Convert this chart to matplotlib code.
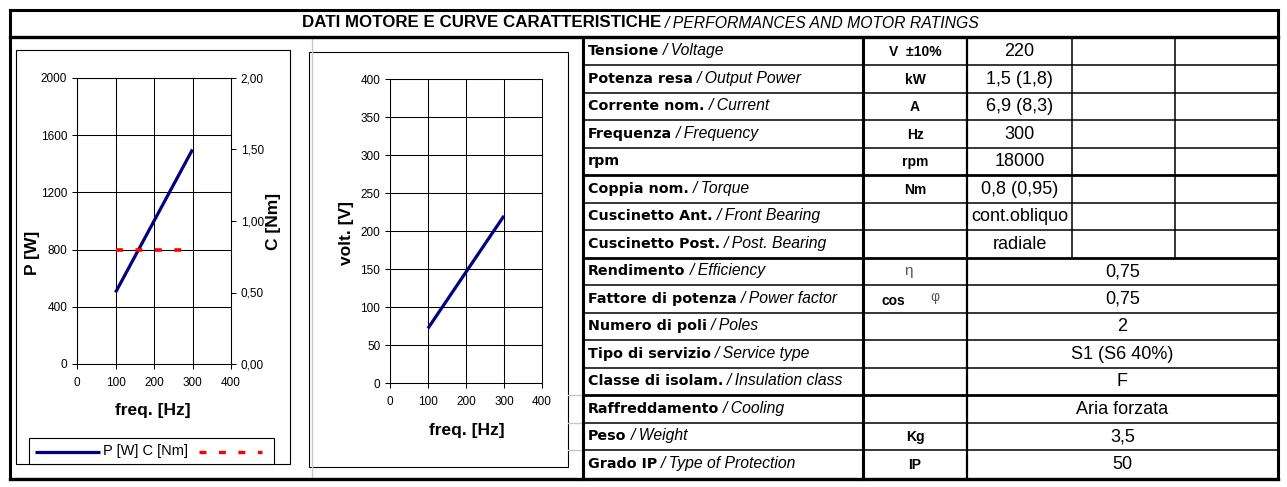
import matplotlib
matplotlib.use('Agg')
import matplotlib.pyplot as plt
from matplotlib.patches import Rectangle

plt.rcParams['font.family'] = ['Liberation Sans', 'DejaVu Sans']
plt.rcParams['lines.scale_dashes'] = False

W, H = 1287, 487
NAVY = '#000080'
RED = '#ff0000'

# ---- chart data ----
power_freq = [100, 300]
power_w = [500, 1500]
torque_freq = [100, 300]
torque_nm = [0.8, 0.8]
volt_freq = [100, 300]
volt_v = [72, 220]

freq_ticks = [0, 100, 200, 300, 400]
p_ticks = [0, 400, 800, 1200, 1600, 2000]
c_ticks = [0.0, 0.5, 1.0, 1.5, 2.0]
v_ticks = [0, 50, 100, 150, 200, 250, 300, 350, 400]

# ---- table data ----
names_it = ['Tensione', 'Potenza resa', 'Corrente nom.', 'Frequenza', 'rpm',
            'Coppia nom.', 'Cuscinetto Ant.', 'Cuscinetto Post.', 'Rendimento',
            'Fattore di potenza', 'Numero di poli', 'Tipo di servizio',
            'Classe di isolam.', 'Raffreddamento', 'Peso', 'Grado IP']
names_en = ['/ Voltage', '/ Output Power', '/ Current', '/ Frequency', '',
            '/ Torque', '/ Front Bearing', '/ Post. Bearing', '/ Efficiency',
            '/ Power factor', '/ Poles', '/ Service type', '/ Insulation class',
            '/ Cooling', '/ Weight', '/ Type of Protection']
units = ['V  ±10%', 'kW', 'A', 'Hz', 'rpm', 'Nm', '', '', '', '', '', '', '',
         '', 'Kg', 'IP']
values = ['220', '1,5 (1,8)', '6,9 (8,3)', '300', '18000', '0,8 (0,95)',
          'cont.obliquo', 'radiale', '0,75', '0,75', '2', 'S1 (S6 40%)', 'F',
          'Aria forzata', '3,5', '50']

fig = plt.figure(figsize=(W / 100, H / 100), dpi=100)
bg = fig.add_axes([0, 0, 1, 1])
bg.set_xlim(0, W)
bg.set_ylim(H, 0)
bg.axis('off')
rend = fig.canvas.get_renderer()


def px_axes(x0, y0, x1, y1):
    return fig.add_axes([x0 / W, 1 - y1 / H, (x1 - x0) / W, (y1 - y0) / H])


def hline(y, x0, x1, lw, c='k'):
    bg.plot([x0, x1], [y, y], color=c, lw=lw, solid_capstyle='projecting')


def vline(x, y0, y1, lw, c='k'):
    bg.plot([x, x], [y0, y1], color=c, lw=lw, solid_capstyle='projecting')


# faint spreadsheet grid behind
vline(312, 37, 478, 1, '#c8c8c8')
for y in [395, 422.5, 450]:
    hline(y, 568, 583, 1, '#c8c8c8')

# outer frame + title band
hline(10, 10, 1278, 2.2)
hline(36.5, 10, 1278, 2.4)
hline(478.5, 10, 1278, 2.4)
vline(10, 10, 478.5, 2.2)
vline(1278, 10, 478.5, 2.2)

# title
t = bg.text(0, 22.5, 'DATI MOTORE E CURVE CARATTERISTICHE', fontsize=12.2,
            fontweight='bold', va='center', ha='left')
t2 = bg.text(0, 23, '/ PERFORMANCES AND MOTOR RATINGS', fontsize=11.3,
             fontstyle='italic', va='center', ha='left')
w1 = t.get_window_extent(rend).width
w2 = t2.get_window_extent(rend).width
x0 = 641 - (w1 + 4 + w2) / 2
t.set_x(x0)
t2.set_x(x0 + w1 + 4)

# chart boxes
bg.add_patch(Rectangle((16, 50), 274, 414, fc='white', ec='k', lw=0.8))
bg.add_patch(Rectangle((309, 52), 259, 415, fc='white', ec='k', lw=0.8))
bg.add_patch(Rectangle((29, 438), 245, 26, fc='white', ec='k', lw=0.8))

# legend of first chart
bg.plot([35, 100], [452, 452], color=NAVY, lw=2.3, solid_capstyle='butt')
bg.text(103, 451, 'P [W] C [Nm]', fontsize=10.5, va='center', ha='left')
bg.plot([199, 262], [452, 452], color=RED, lw=2.4, linestyle=(0, (5, 9)))

# ---- table ----
top, rh = 37.5, 27.5
n = len(names_it)
for i in range(1, n):
    y = top + i * rh
    lw = 2.0 if i in (5, 8, 13) else 1.1
    hline(y, 583, 1278, lw)
vline(583, top, 478.5, 2.2)
vline(863, top, 478.5, 2.2)
vline(967, top, 478.5, 1.6)
vline(1072, top, top + 8 * rh, 1.1)
vline(1175, top, top + 8 * rh, 1.1)

for i in range(n):
    yc = top + (i + 0.5) * rh
    tb = bg.text(588, yc, names_it[i], fontsize=10.3, fontweight='bold',
                 family='DejaVu Sans', va='center', ha='left')
    if names_en[i]:
        wb = tb.get_window_extent(rend).width
        bg.text(588 + wb + 4, yc - 0.5, names_en[i], fontsize=11.3,
                fontstyle='italic', va='center', ha='left')
    if units[i]:
        bg.text(915, yc + 1, units[i], fontsize=10, fontweight='bold',
                va='center', ha='center')
    vx = 1019.5 if i < 8 else 1122.5
    bg.text(vx, yc + 0.5, values[i], fontsize=13, va='center', ha='center')

y_eta = top + 8.5 * rh
y_cos = top + 9.5 * rh
bg.text(909, y_eta, 'η', fontsize=11, color='#555555', va='center', ha='center')
bg.text(893, y_cos + 2.5, 'cos', fontsize=10, fontweight='bold',
        va='center', ha='center')
bg.text(935, y_cos - 2, 'φ', fontsize=10, color='#555555', va='center',
        ha='center')


def style(ax):
    for s in ax.spines.values():
        s.set_linewidth(0.75)
        s.set_color('k')
    ax.tick_params(direction='out', length=3.5, width=0.75, labelsize=8.5,
                   pad=3.5, colors='k')
    ax.tick_params(axis='x', pad=6)


# ---- chart 1 : power / torque ----
ax1 = px_axes(77, 78, 231, 364)
ax1.plot(power_freq, power_w, color=NAVY, lw=2.3, solid_capstyle='butt',
         zorder=3)
ax1.set_xlim(0, 400)
ax1.set_ylim(0, 2000)
ax1.set_xticks(freq_ticks)
ax1.set_yticks(p_ticks)
ax1.grid(True, color='k', lw=0.75)
ax1.set_axisbelow(True)
style(ax1)
ax1r = ax1.twinx()
ax1r.plot(torque_freq, torque_nm, color=RED, lw=2.6, linestyle=(0, (5, 9)))
ax1r.set_ylim(0, 2)
ax1r.set_yticks(c_ticks)
ax1r.set_yticklabels([f'{v:.2f}'.replace('.', ',') for v in c_ticks])
style(ax1r)
ax1.text(-0.286, 0.39, 'P [W]', transform=ax1.transAxes, rotation=90,
         fontsize=12.5, fontweight='bold', ha='center', va='center')
ax1.text(1.275, 0.497, 'C [Nm]', transform=ax1.transAxes, rotation=90,
         fontsize=12.5, fontweight='bold', ha='center', va='center')
ax1.text(0.494, -0.161, 'freq. [Hz]', transform=ax1.transAxes,
         fontsize=12.5, fontweight='bold', ha='center', va='center')

# ---- chart 2 : voltage ----
ax2 = px_axes(390, 79, 542, 383)
ax2.plot(volt_freq, volt_v, color=NAVY, lw=2.3, solid_capstyle='butt',
         zorder=3)
ax2.set_xlim(0, 400)
ax2.set_ylim(0, 400)
ax2.set_xticks(freq_ticks)
ax2.set_yticks(v_ticks)
ax2.grid(True, color='k', lw=0.75)
ax2.set_axisbelow(True)
style(ax2)
ax2.text(-0.283, 0.493, 'volt. [V]', transform=ax2.transAxes, rotation=90,
         fontsize=12.5, fontweight='bold', ha='center', va='center')
ax2.text(0.507, -0.155, 'freq. [Hz]', transform=ax2.transAxes,
         fontsize=12.5, fontweight='bold', ha='center', va='center')

fig.savefig('out.png', dpi=100)
